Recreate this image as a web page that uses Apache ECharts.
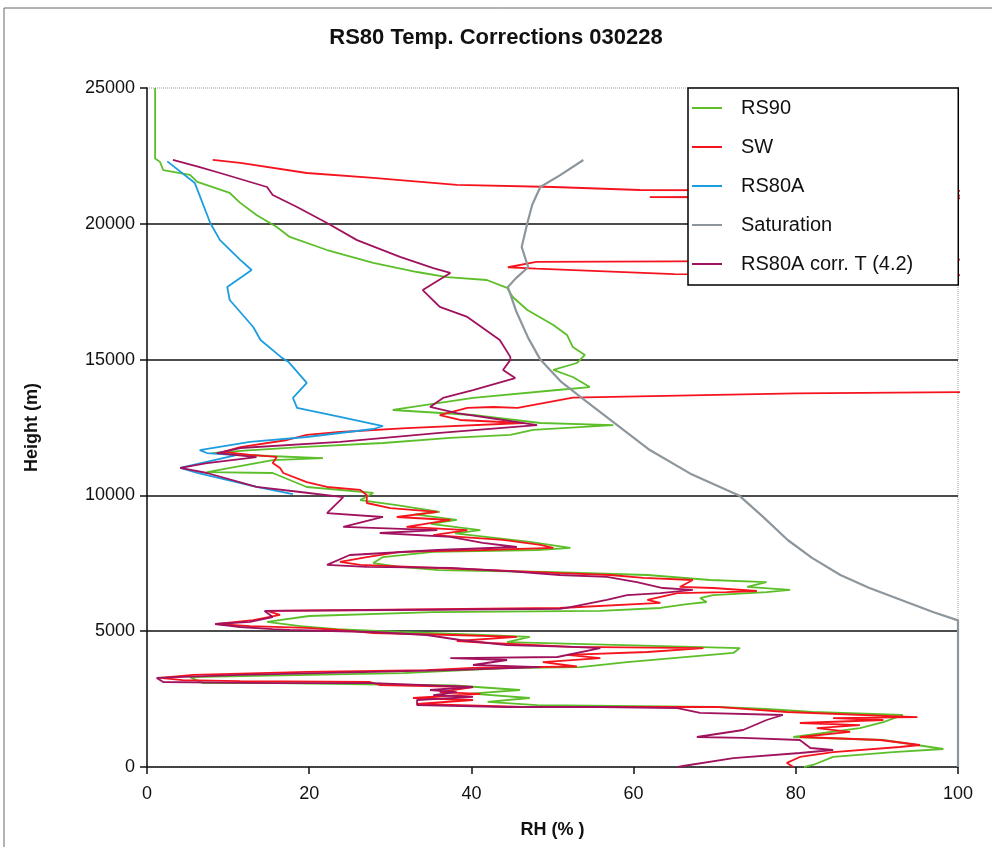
<!DOCTYPE html>
<html>
<head>
<meta charset="utf-8">
<script src="https://cdn.jsdelivr.net/npm/echarts@6/dist/echarts.min.js"></script>
<style>
  html, body { margin: 0; padding: 0; background: #fff; }
  #chart { width: 992px; height: 847px; }
</style>
</head>
<body>
<div id="chart"></div>
<script>
// series names (legend order)
var seriesNames = ['RS90', 'SW', 'RS80A', 'Saturation', 'RS80A corr. T (4.2)'];
var xTicks = [0, 20, 40, 60, 80, 100];
var yTicks = [0, 5000, 10000, 15000, 20000, 25000];

// [RH %, height m]
var rs90 = [[1,25000],[1,22400],[1.6,22280],[2,21980],[5.3,21800],[6.2,21540],[10.2,21135],[11.5,20770],
  [13.5,20325],[16,19880],[17.6,19515],[22.2,19035],[27.9,18560],[33.3,18225],[37,18040],[41.9,17930],
  [44.4,17640],[45.1,17305],[46.9,16825],[50.1,16275],[51.8,15905],[52.5,15465],[54,15170],[53,14875],
  [50.1,14620],[52.5,14360],[54.6,13990],[50.6,13880],[40.2,13590],[30.3,13145],[40.2,12960],[48.5,12665],
  [57.5,12590],[47.6,12410],[44.8,12225],[37.4,12115],[29.1,11930],[18.9,11780],[12,11650],[8,11560],
  [15,11450],[21.7,11375],[15.5,11300],[7.4,10860],[15.5,10825],[19.7,10310],[27.9,10090],[26.3,9830],
  [30.8,9645],[36.1,9390],[33,9300],[38.2,9095],[35,8950],[41.1,8725],[38,8600],[47.2,8285],[52.2,8065],
  [48.1,7990],[35.3,7920],[29.1,7730],[27.9,7510],[31.2,7365],[36,7250],[49.3,7180],[61.7,7070],
  [69.4,6885],[76.4,6810],[74,6630],[79.3,6520],[76.4,6440],[69.8,6330],[68.2,6220],[69,6075],[66.6,6000],
  [63.3,5855],[55.9,5745],[35.3,5705],[20,5560],[14.8,5340],[18.9,5190],[23.4,5080],[31.2,4970],
  [41.4,4860],[47.2,4790],[44.4,4600],[60,4480],[73.1,4380],[72.3,4200],[59.2,3865],[53.4,3680],
  [44.4,3645],[31.6,3460],[5.3,3310],[6.9,3090],[16,3090],[38,3000],[46,2835],[40,2700],[47.2,2540],
  [42,2400],[48.1,2280],[70.3,2210],[76.4,2135],[82.1,2025],[93.2,1915],[90.8,1655],[87.9,1435],
  [79.7,1105],[90.8,994],[98.2,663],[92,550],[84.6,370],[82.1,75],[81,0]];

// SW goes off scale (>100 %) in places; those parts are clipped by the plot area
var sw = [[8.1,22350],[11.5,22240],[19.7,21870],[27.9,21690],[38.2,21430],[50.1,21355],[60.8,21245],
  [110,21200],[110,21050],[62,20980],[110,20930],[110,18700],[65,18620],[48,18600],[44.5,18400],[48,18350],
  [65,18150],[110,18100],[110,13820],[80,13760],[52.5,13600],[45.7,13220],[42.7,13255],[39.5,13220],
  [36.1,12960],[38.6,12777],[46.4,12665],[32,12480],[23.8,12335],[19.7,12225],[17.3,12040],[11.5,11780],
  [9.4,11600],[12.7,11490],[16,11415],[15.5,11190],[16.4,11010],[16.8,10825],[19.7,10490],[22.2,10310],
  [26.3,10200],[27.1,10015],[27.1,9720],[30,9535],[35.8,9390],[30.8,9205],[37.4,9095],[32,8840],
  [39.5,8725],[35.3,8540],[43.9,8360],[48.5,8175],[50.1,8065],[41.4,7990],[31.2,7920],[27.1,7730],
  [23.8,7550],[26.3,7440],[39,7290],[50.9,7140],[57.1,7070],[61.2,6960],[67.3,6885],[65.7,6630],
  [69.8,6590],[75.2,6480],[71.5,6440],[65.4,6405],[61.7,6150],[63.3,6040],[50.9,5855],[30,5790],
  [14.8,5745],[16.4,5600],[13.1,5410],[8.6,5265],[12.7,5190],[19.7,5120],[23.8,5045],[27.9,4930],
  [37.7,4860],[45.6,4790],[38.2,4640],[42.3,4565],[52.5,4420],[68.6,4380],[61.7,4235],[51.8,4125],
  [55.9,4010],[48.8,3865],[53,3700],[40.2,3650],[34.5,3570],[19.7,3500],[5.7,3390],[1.6,3280],[4.4,3200],
  [11.5,3165],[27.5,3130],[28.7,3020],[40.2,2945],[36.1,2760],[41.1,2690],[32.8,2540],[40.2,2467],
  [33.3,2320],[46.4,2210],[70.3,2210],[78.9,2025],[95,1840],[84.6,1800],[90.8,1730],[80.5,1620],
  [87.9,1545],[82.6,1435],[86.7,1290],[80.5,1105],[90.4,994],[95.3,810],[92.8,736],[84.6,550],
  [80.5,370],[78.9,150],[79.7,0]];

var rs80a = [[2.5,22300],[5.9,21500],[7.8,20030],[9,19400],[11.5,18670],[12.9,18300],[9.9,17670],
  [10.2,17195],[13.1,16200],[14,15720],[16.5,15100],[17.5,14900],[19.7,14140],[18,13590],[18.5,13220],
  [23.8,12890],[29.1,12555],[27.9,12445],[19.7,12150],[12.7,11970],[6.5,11670],[7.4,11560],[11,11480],
  [4.1,11010],[6.2,10825],[13.5,10310],[18,10050]];

var saturation = [[53.8,22350],[51,21800],[48.5,21355],[47.5,20700],[46.9,20030],[46.2,19150],[47,18400],
  [45.5,18000],[44.5,17670],[45.5,16800],[47,15800],[48.5,15000],[51,14200],[54,13500],[57.5,12700],
  [62,11670],[67,10800],[73,10000],[76,9200],[79,8358],[82,7700],[85.5,7070],[89,6600],[93,6150],
  [97,5700],[100,5400],[100,0]];

var rs80aCorr = [[3.2,22350],[6.5,22090],[9,21870],[14.8,21355],[15.5,21060],[18.5,20620],[22.2,20030],
  [25.9,19400],[31.2,18780],[35.3,18370],[37.4,18190],[34,17560],[36.1,16940],[39.5,16570],[43.5,15720],
  [44.8,15100],[44.8,14990],[43.9,14620],[45.4,14320],[40.2,13880],[36.5,13590],[34.9,13255],[38.2,13030],
  [42.3,12850],[48.1,12590],[36.1,12300],[23.8,11970],[11.5,11745],[8.6,11560],[13.5,11410],[7.4,11190],
  [4.1,11010],[7.4,10825],[13.5,10310],[18.9,10125],[24.2,9940],[22.2,9350],[29.1,9205],[24.2,8840],
  [35.8,8725],[28.7,8615],[37.4,8470],[41.4,8250],[45.6,8100],[35.8,7990],[25,7805],[22.2,7440],
  [27.1,7365],[37.4,7330],[45,7200],[50.9,7070],[56.7,7000],[60.4,6810],[63.6,6590],[67.3,6520],
  [63.3,6405],[59.2,6330],[56.7,6150],[52.2,5890],[50.9,5820],[30,5780],[14.5,5745],[15.5,5520],
  [12.7,5340],[8.4,5265],[11.5,5155],[15.5,5080],[17.6,5045],[27.9,4970],[34.5,4860],[38.6,4676],
  [44.4,4490],[52.5,4420],[55.9,4380],[50.6,4050],[37.4,4010],[44.4,3940],[40.2,3755],[48.5,3680],
  [37.4,3570],[27.9,3500],[11.5,3390],[1.2,3280],[2,3130],[15.5,3090],[27.9,3090],[40.2,2945],
  [34.9,2835],[38.2,2760],[35.3,2650],[40.2,2580],[33.3,2467],[33.3,2280],[44.4,2210],[55.9,2210],
  [65.4,2170],[68.2,1990],[78.4,1915],[76.4,1730],[73.5,1362],[67.8,1105],[73.5,1070],[80.5,994],
  [81.8,700],[84.6,626],[80.5,515],[72.3,330],[66.1,37],[65.5,0]];

var seriesData = [rs90, sw, rs80a, saturation, rs80aCorr];
var seriesColors = ['#5cbf2a', '#f5141e', '#1b9de0', '#8c969c', '#a0125e'];

(function () {
    var myChart = echarts.init(document.getElementById('chart'))
    var font = '"Liberation Sans", Arial, sans-serif'

    var option = {
        animation: false,
        textStyle: { fontFamily: font },
        title: {
            text: 'RS80 Temp. Corrections 030228',
            left: 'center',
            top: 22,
            textStyle: { fontFamily: font, fontSize: 22, fontWeight: 'bold', color: '#111' }
        },
        // outer chart frame
        graphic: [{
            type: 'rect',
            shape: { x: 4, y: 8, width: 1000, height: 860 },
            style: { fill: 'none', stroke: '#666', lineWidth: 1 },
            z: -1
        }],
        grid: {
            left: 147,
            right: 34,
            top: 88,
            bottom: 80,
            show: true,
            borderColor: '#999',
            borderWidth: 1,
            borderType: 'dotted'
        },
        legend: {
            orient: 'vertical',
            left: 688,
            top: 88,
            icon: 'rect',
            itemWidth: 30,
            itemHeight: 2,
            itemGap: 17,
            padding: [9, 10, 10, 4],
            backgroundColor: '#fff',
            borderColor: '#000',
            borderWidth: 1.5,
            textStyle: { fontFamily: font, fontSize: 20, color: '#111', lineHeight: 22, padding: [0, 35, 0, 14] },
            data: seriesNames
        },
        xAxis: {
            type: 'value',
            min: 0,
            max: 100,
            interval: 20,
            name: 'RH (% )',
            nameLocation: 'middle',
            nameGap: 54,
            nameTextStyle: { fontFamily: font, fontSize: 18, fontWeight: 'bold', color: '#111' },
            axisLine: { lineStyle: { color: '#111', width: 1.5 } },
            axisTick: { show: true, length: 7, lineStyle: { color: '#111', width: 1.5 } },
            axisLabel: { fontSize: 18, color: '#111', margin: 18, formatter: function (v) { return xTicks.indexOf(v) >= 0 ? v : '' } },
            splitLine: { show: false }
        },
        yAxis: {
            type: 'value',
            min: 0,
            max: 25000,
            interval: 5000,
            name: 'Height (m)',
            nameLocation: 'middle',
            nameGap: 106,
            nameTextStyle: { fontFamily: font, fontSize: 18, fontWeight: 'bold', color: '#111' },
            axisLine: { show: true, lineStyle: { color: '#111', width: 1.5 } },
            axisTick: { show: true, length: 7, lineStyle: { color: '#111', width: 1.5 } },
            axisLabel: { fontSize: 18, color: '#111', margin: 12, formatter: function (v) { return yTicks.indexOf(v) >= 0 ? v : '' } },
            splitLine: { show: true, showMinLine: false, showMaxLine: false, lineStyle: { color: '#111', width: 1.5 } }
        },
        series: seriesNames.map(function (name, i) {
            return {
                name: name,
                type: 'line',
                data: seriesData[i],
                showSymbol: false,
                symbol: 'none',
                clip: true,
                color: seriesColors[i],
                lineStyle: { color: seriesColors[i], width: i === 3 ? 2.2 : 1.8 },
                z: 2 + i
            }
        })
    };

    myChart.setOption(option)

    window.addEventListener('resize', function () {
        myChart.resize()
    })
})();
</script>
</body>
</html>
